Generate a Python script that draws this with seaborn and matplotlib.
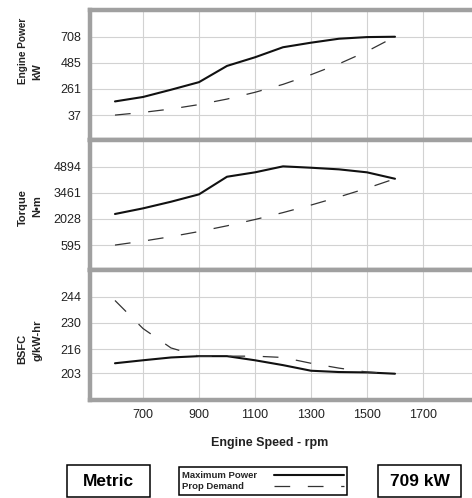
import matplotlib
matplotlib.use("Agg")
import matplotlib.pyplot as plt
import seaborn as sns
import pandas as pd
from matplotlib.patches import Rectangle

# ---- data ----
rpm = [600, 700, 800, 900, 1000, 1100, 1200, 1300, 1400, 1500, 1600]
power_max = [154, 192, 254, 319, 458, 532, 618, 657, 691, 705, 708]
power_prop = [37, 60, 89, 127, 174, 232, 300, 383, 476, 583, 708]
torque_max = [2300, 2609, 2973, 3378, 4345, 4587, 4915, 4840, 4750, 4587, 4235]
torque_prop = [595, 810, 1057, 1337, 1651, 1997, 2377, 2790, 3236, 3714, 4235]
bsfc_max = [208.4, 210.0, 211.5, 212.2, 212.2, 210.0, 207.4, 204.4, 203.7, 203.5, 202.8]
bsfc_prop = [242.0, 227.0, 216.6, 212.2, 212.2, 212.2, 211.5, 208.4, 205.8, 203.7, 202.8]

power_ticks = [37, 261, 485, 708]
torque_ticks = [595, 2028, 3461, 4894]
bsfc_ticks = [203, 216, 230, 244]
x_ticks = [700, 900, 1100, 1300, 1500, 1700]

series_names = ["Maximum Power", "Prop Demand"]

sns.set_style("white")
plt.rcParams["font.family"] = ["Liberation Sans", "DejaVu Sans"]
plt.rcParams["lines.scale_dashes"] = False

W, H = 472, 498
fig = plt.figure(figsize=(W / 100, H / 100), dpi=100)

left_px, right_px = 89.5, 479.0
top_px, bot_px = 10.0, 399.5
ph = (bot_px - top_px) / 3.0

panels = [
    (power_max, power_prop, power_ticks, (-175, 937)),
    (torque_max, torque_prop, torque_ticks, (-756, 6371)),
    (bsfc_max, bsfc_prop, bsfc_ticks, (189.0, 258.5)),
]

frame_col = "#a0a0a0"
grid_col = "#d2d2d2"
dash = (0, (11.3, 12.7))

axes = []
for i, (ymax, yprop, yt, ylim) in enumerate(panels):
    t = top_px + i * ph
    b = t + ph
    ax = fig.add_axes([left_px / W, (H - b) / H, (right_px - left_px) / W, ph / H])
    df = pd.DataFrame({
        "rpm": rpm * 2,
        "val": list(ymax) + list(yprop),
        "series": [series_names[0]] * len(rpm) + [series_names[1]] * len(rpm),
    })
    sns.lineplot(data=df[df.series == series_names[0]], x="rpm", y="val", ax=ax,
                 color="#111111", lw=1.5, label=series_names[0], legend=False)
    sns.lineplot(data=df[df.series == series_names[1]], x="rpm", y="val", ax=ax,
                 color="#333333", lw=0.9, linestyle=dash, label=series_names[1], legend=False)
    ax.set_xlim(509, 1900)
    ax.set_ylim(*ylim)
    ax.set_yticks(yt)
    ax.set_yticklabels([str(v) for v in yt])
    ax.set_xticks(x_ticks + [1900])
    ax.grid(True, color=grid_col, lw=0.8)
    ax.set_axisbelow(True)
    ax.set_xlabel("")
    ax.set_ylabel("")
    for s in ["left", "top", "bottom"]:
        ax.spines[s].set_visible(True)
        ax.spines[s].set_color(frame_col)
        ax.spines[s].set_linewidth(3.2)
    ax.spines["right"].set_visible(False)
    ax.tick_params(axis="y", length=0, pad=6, labelsize=9, labelcolor="#222222")
    if i < 2:
        ax.tick_params(axis="x", length=0, labelbottom=False)
    else:
        ax.tick_params(axis="x", length=0, pad=7, labelsize=9, labelcolor="#222222")
        ax.set_xticklabels([str(v) for v in x_ticks] + [""])
    axes.append(ax)

# y-axis titles (two lines each)
lab_pos = [
    [("Engine Power", 23, 51, 7.2), ("kW", 37.5, 71.5, 8)],
    [("Torque", 22.5, 207.5, 8), ("N\u2022m", 37.5, 206.5, 8)],
    [("BSFC", 22.5, 349, 8), ("g/kW-hr", 37.5, 340, 8)],
]
for items in lab_pos:
    for txt, xp, yp, fs in items:
        fig.text(xp / W, (H - yp) / H, txt, rotation=90, ha="center", va="center",
                 fontsize=fs, fontweight="bold", color="#222222")

fig.text(270 / W, (H - 443) / H, "Engine Speed - rpm", ha="center", va="center",
         fontsize=9, fontweight="bold", color="#222222")

# bottom boxes
for x0, x1, txt in [(67, 150, "Metric"), (378, 461, "709 kW")]:
    fig.add_artist(Rectangle((x0 / W, (H - 497) / H), (x1 - x0) / W, 32 / H,
                             transform=fig.transFigure, fill=False,
                             edgecolor="black", lw=1.1))
    fig.text((x0 + x1) / 2 / W, (H - 481) / H, txt, ha="center", va="center",
             fontsize=12.5, fontweight="bold", color="black")

handles, labels = axes[0].get_legend_handles_labels()
leg = fig.legend(handles, labels, loc="center", bbox_to_anchor=(263 / W, (H - 481) / H),
                 markerfirst=False, frameon=True, fancybox=False, framealpha=1,
                 edgecolor="black", prop={"size": 6.8, "weight": "bold"},
                 handlelength=7.4, handletextpad=1.7, borderpad=0.4,
                 labelspacing=0.25, borderaxespad=0)
leg.get_frame().set_linewidth(1.1)

# left-align the labels while keeping the sample lines aligned on the right
fig.canvas.draw()
renderer = fig.canvas.get_renderer()
texts = leg.get_texts()
widths = [t.get_window_extent(renderer).width for t in texts]
wmax = max(widths)
rows = []
for col in leg._legend_handle_box.get_children():
    rows.extend(col.get_children())
for row, w in zip(rows, widths):
    row.sep = row.sep + (wmax - w) * 72.0 / fig.dpi

fig.savefig("out.png", dpi=100)
